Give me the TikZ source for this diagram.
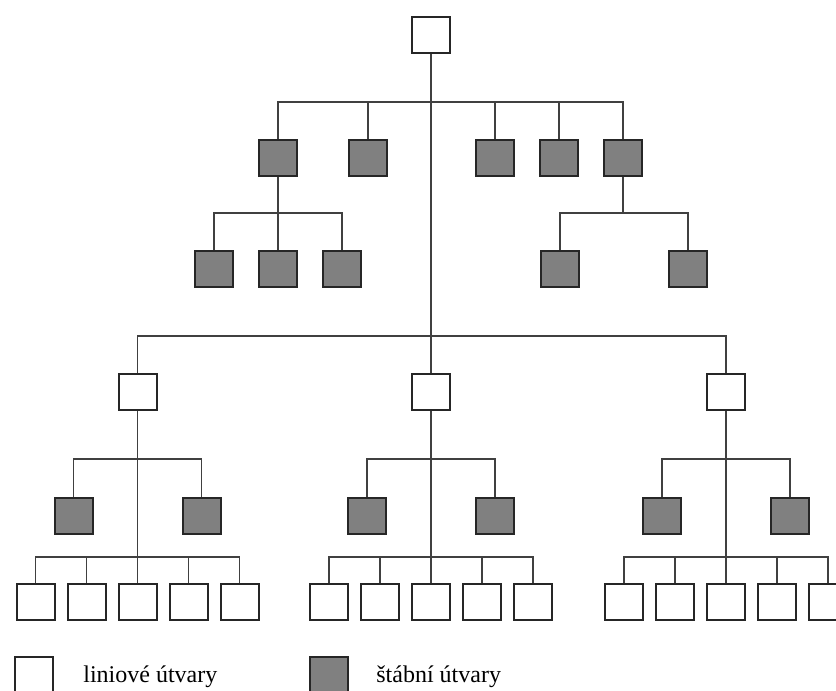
\documentclass[tikz,border=0pt]{standalone}
\usepackage{fontspec}
\setmainfont{Liberation Serif}
\begin{document}
\begin{tikzpicture}[x=0.5pt, y=-0.5pt,
    unit/.style={draw=black!85, line width=1pt, minimum width=19pt, minimum height=18pt, inner sep=0pt},
    linebox/.style={unit, fill=white},
    staffbox/.style={unit, fill=black!50},
    link/.style={draw=black!75, line width=0.8pt},
    keytext/.style={anchor=base west, inner sep=0pt, font=\fontsize{12}{14}\selectfont}]
    \useasboundingbox (0,0) rectangle (836,691);

    % top and staff units
    \node[linebox] (top) at (431,35) {};
    \coordinate (bar1) at (431,102);
    \foreach \i/\x in {1/278, 2/368, 3/495, 4/559, 5/623} {
        \node[staffbox] (s\i) at (\x,157.5) {};
        \draw[link] (s\i.north) |- (bar1);
    }
    \coordinate (bar2a) at (278,213);
    \coordinate (bar2b) at (623,213);
    \foreach \i/\x in {1/214, 2/278, 3/342}
        \node[staffbox] (s1\i) at (\x,269) {};
    \node[staffbox] (s51) at (560,269) {};
    \node[staffbox] (s52) at (688,269) {};
    \draw[link] (s1) -- (s12);
    \draw[link] (s11.north) |- (bar2a);
    \draw[link] (s13.north) |- (bar2a);
    \draw[link] (s5.south) -- (bar2b);
    \draw[link] (s51.north) |- (bar2b);
    \draw[link] (s52.north) |- (bar2b);

    % line units
    \coordinate (bar3) at (431,336);
    \foreach \g/\cx in {1/137.5, 2/431, 3/726} {
        \node[linebox] (L\g) at (\cx,392) {};
        \draw[link] (L\g.north) |- (bar3);
        \coordinate (b\g) at (\cx,459);
        \coordinate (c\g) at (\cx,557);
        \node[staffbox] (L\g-a) at (\cx-64,515.5) {};
        \node[staffbox] (L\g-b) at (\cx+64,515.5) {};
        \draw[link] (L\g-a.north) |- (b\g);
        \draw[link] (L\g-b.north) |- (b\g);
        \foreach \i/\dx in {1/-102, 2/-51, 3/0, 4/51, 5/102} {
            \node[linebox] (L\g-\i) at (\cx+\dx,602) {};
            \draw[link] (L\g-\i.north) |- (c\g);
        }
        \draw[link] (L\g) -- (L\g-3);
    }
    \draw[link] (top) -- (L2);

    % legend
    \node[linebox] (keyline) at (34,675) {};
    \node[keytext] (keylinetext) at (83,682) {liniové útvary};
    \node[staffbox] (keystaff) at (329,675) {};
    \node[keytext] (keystafftext) at (376,682) {štábní útvary};
\end{tikzpicture}
\end{document}
